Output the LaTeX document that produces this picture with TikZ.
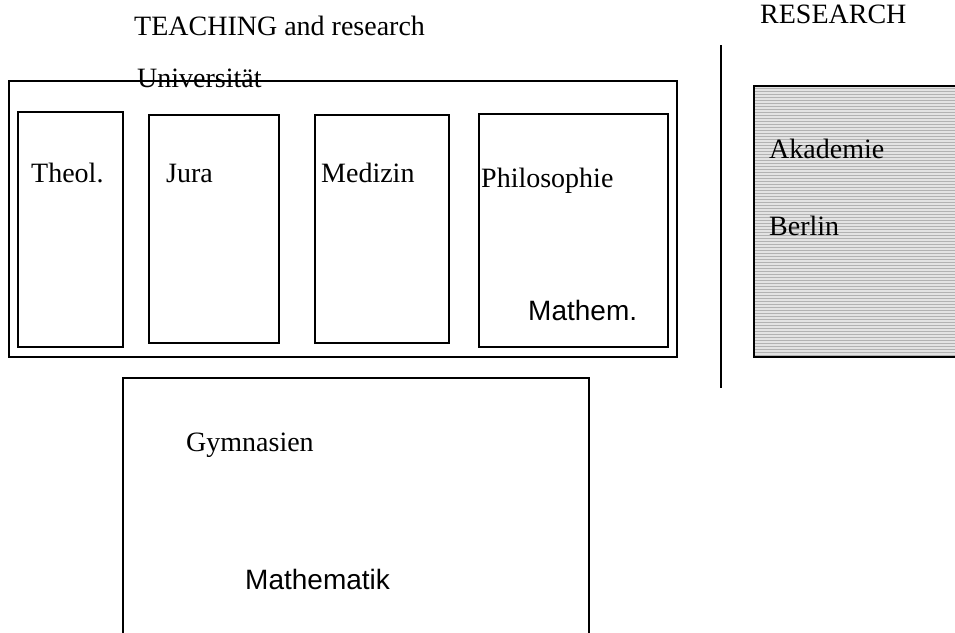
\documentclass[tikz,border=0pt]{standalone}
\usepackage{fontspec}
\setmainfont{Liberation Serif}
\setsansfont{Liberation Sans}
\begin{document}
\begin{tikzpicture}[x=0.5pt,y=-0.5pt,line width=1.2pt,
lbl/.style={inner sep=0pt,anchor=base west,font=\fontsize{14}{16}\selectfont},
slbl/.style={lbl,font=\sffamily\fontsize{14}{16}\selectfont}]
\clip(0,0)rectangle(955,633);
% Akademie, hatched
\fill[gray!22](754,86)rectangle(970,357);
\foreach \y in {88,91,...,356}
\draw[gray!60,line width=0.5pt](754,\y)--(970,\y);
\draw(754,86)rectangle(970,357);
% Universitaet and faculties
\draw(9,81)rectangle(677,357);
\draw(18,112)rectangle(123,347)(149,115)rectangle(279,343)
(315,115)rectangle(449,343)(479,114)rectangle(668,347);
\draw(721,45)--(721,388);
\draw(123,645)--(123,378)--(589,378)--(589,645);
\node[lbl](teach)at(133,35){TEACHING and research};
\node[lbl](res)at(759,23){RESEARCH};
\node[lbl](uni)at(136,87){Universität};
\node[lbl](theol)at(30,182){Theol.};
\node[lbl](jura)at(165,182){Jura};
\node[lbl](med)at(320,182){Medizin};
\node[lbl](phil)at(480,187){Philosophie};
\node[slbl](mathem)at(527,320){Mathem.};
\node[lbl](akad)at(768,158){Akademie};
\node[lbl](berlin)at(768,235){Berlin};
\node[lbl](gym)at(185,451){Gymnasien};
\node[slbl](mathe)at(244,589){Mathematik};
\end{tikzpicture}
\end{document}
